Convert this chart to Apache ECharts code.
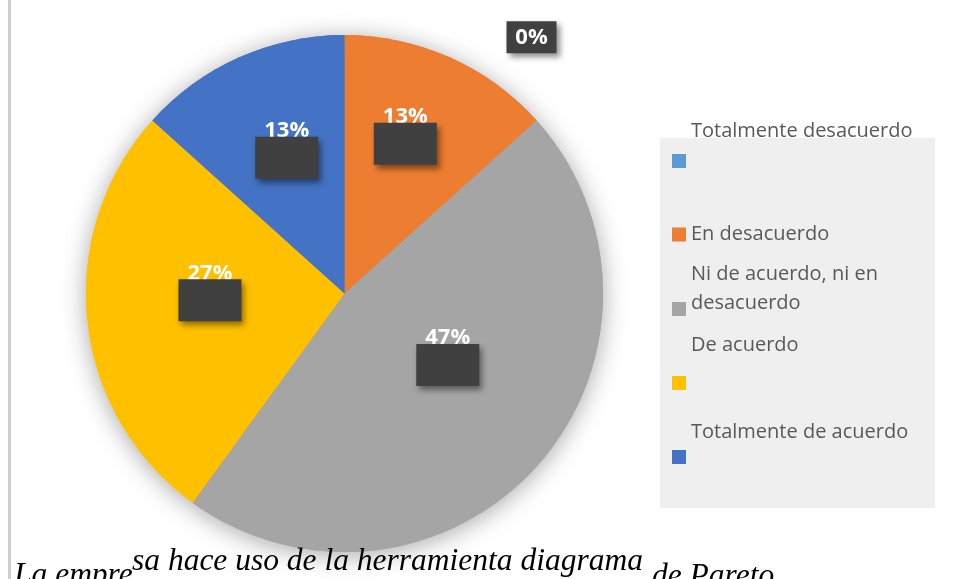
<!DOCTYPE html>
<html>
<head>
<meta charset="utf-8">
<script src="https://cdn.jsdelivr.net/npm/echarts@6/dist/echarts.min.js"></script>
<style>
  html, body { margin: 0; padding: 0; background: #fff; }
  #main { width: 962px; height: 579px; }
</style>
</head>
<body>
<div id="main"></div>
<script>
// respuestas de la encuesta
var categories = ['Totalmente desacuerdo', 'En desacuerdo', 'Ni de acuerdo, ni en desacuerdo', 'De acuerdo', 'Totalmente de acuerdo'];
var counts = [0, 2, 7, 4, 2];
var colors = ['#5B9BD5', '#ED7D31', '#A5A5A5', '#FFC000', '#4472C4'];

// desplazamiento de etiquetas (como en el original de Excel)
var labelShift = [[187, -124], [7, -35], [5, -23], [-3, -13], [-4, -21]];
// leyenda: top de cada bloque, alto de la linea vacia bajo el texto, alto de linea
var legendPos = [
  { top: 121.5, gap: 59, lh: 20 },
  { top: 224.5, gap: 0, lh: 20 },
  { top: 259.5, gap: 41, lh: 29 },
  { top: 335, gap: 76, lh: 20 },
  { top: 422.5, gap: 49, lh: 20 }
];

var myChart = echarts.init(document.getElementById('main'));

var s = [];
for (var i = 0; i < categories.length; i++) {
  var item = { name: categories[i], value: counts[i], itemStyle: { color: colors[i] } };
  if (counts[i] === 0) {
    item.label = { formatter: '{z|{d}%}' };
  }
  s.push(item);
}

function legendItem(j) {
  var g = legendPos[j].gap;
  return {
    data: [categories[j]],
    left: 672,
    top: legendPos[j].top,
    padding: 0,
    icon: 'rect',
    itemWidth: 14,
    itemHeight: 14,
    itemGap: 0,
    selectedMode: false,
    formatter: function (name) {
      var t = name.replace('ni en ', 'ni en\n');
      return g > 0 ? t + '\n{gap| }' : t;
    },
    textStyle: {
      fontFamily: 'Open Sans',
      fontSize: 20,
      color: '#595959',
      lineHeight: legendPos[j].lh,
      rich: { gap: { fontSize: 10, lineHeight: g } }
    }
  };
}

var legends = [];
for (var j = 0; j < categories.length; j++) {
  legends.push(legendItem(j));
}

var captionStyle = { fontFamily: 'Liberation Serif', fontStyle: 'italic', fontWeight: 'normal', fontSize: 31.5, lineHeight: 31.5, color: '#000' };

var option = {
  backgroundColor: '#fff',
  animation: false,
  title: [
    { text: 'La empre', left: 14, top: 559.5, padding: 0, textStyle: captionStyle },
    { text: 'sa hace uso de la herramienta diagrama', left: 132, top: 545.5, padding: 0, textStyle: captionStyle },
    { text: 'de Pareto', left: 652, top: 560.5, padding: 0, textStyle: captionStyle }
  ],
  graphic: [
    { type: 'rect', z: -10, shape: { x: 660, y: 138, width: 275, height: 370 }, style: { fill: '#efefef' } },
    { type: 'line', z: -10, shape: { x1: 9.5, y1: 0, x2: 9.5, y2: 579 }, style: { stroke: '#cfcfcf', lineWidth: 3 } }
  ],
  legend: legends,
  series: [
    {
      // sombra del pastel
      type: 'pie',
      center: [344.5, 293.5],
      radius: 258.5,
      startAngle: 90,
      silent: true,
      label: { show: false },
      labelLine: { show: false },
      emphasis: { disabled: true },
      itemStyle: { shadowBlur: 24, shadowColor: 'rgba(0,0,0,0.35)', shadowOffsetY: 3 },
      data: s
    },
    {
      name: 'respuestas',
      type: 'pie',
      center: [344.5, 293.5],
      radius: 258.5,
      startAngle: 90,
      percentPrecision: 0,
      label: {
        show: true,
        position: 'inside',
        formatter: '{pct|{d}%}\n{box|}',
        rich: {
          pct: { color: '#fff', fontFamily: 'Open Sans', fontWeight: 'bold', fontSize: 22, lineHeight: 12, align: 'center' },
          box: {
            width: 63, height: 42, backgroundColor: '#404040', align: 'center',
            shadowBlur: 6, shadowColor: 'rgba(0,0,0,0.45)', shadowOffsetX: 3, shadowOffsetY: 4
          },
          z: {
            color: '#fff', fontFamily: 'Open Sans', fontWeight: 'bold', fontSize: 22,
            width: 50, height: 32, lineHeight: 32, align: 'center', backgroundColor: '#404040',
            shadowBlur: 6, shadowColor: 'rgba(0,0,0,0.45)', shadowOffsetX: 3, shadowOffsetY: 4
          }
        }
      },
      labelLine: { show: false },
      labelLayout: function (params) {
        var d = labelShift[params.dataIndex];
        return { dx: d[0], dy: d[1] };
      },
      emphasis: { scale: false },
      data: s
    }
  ]
};

myChart.setOption(option);
</script>
</body>
</html>
